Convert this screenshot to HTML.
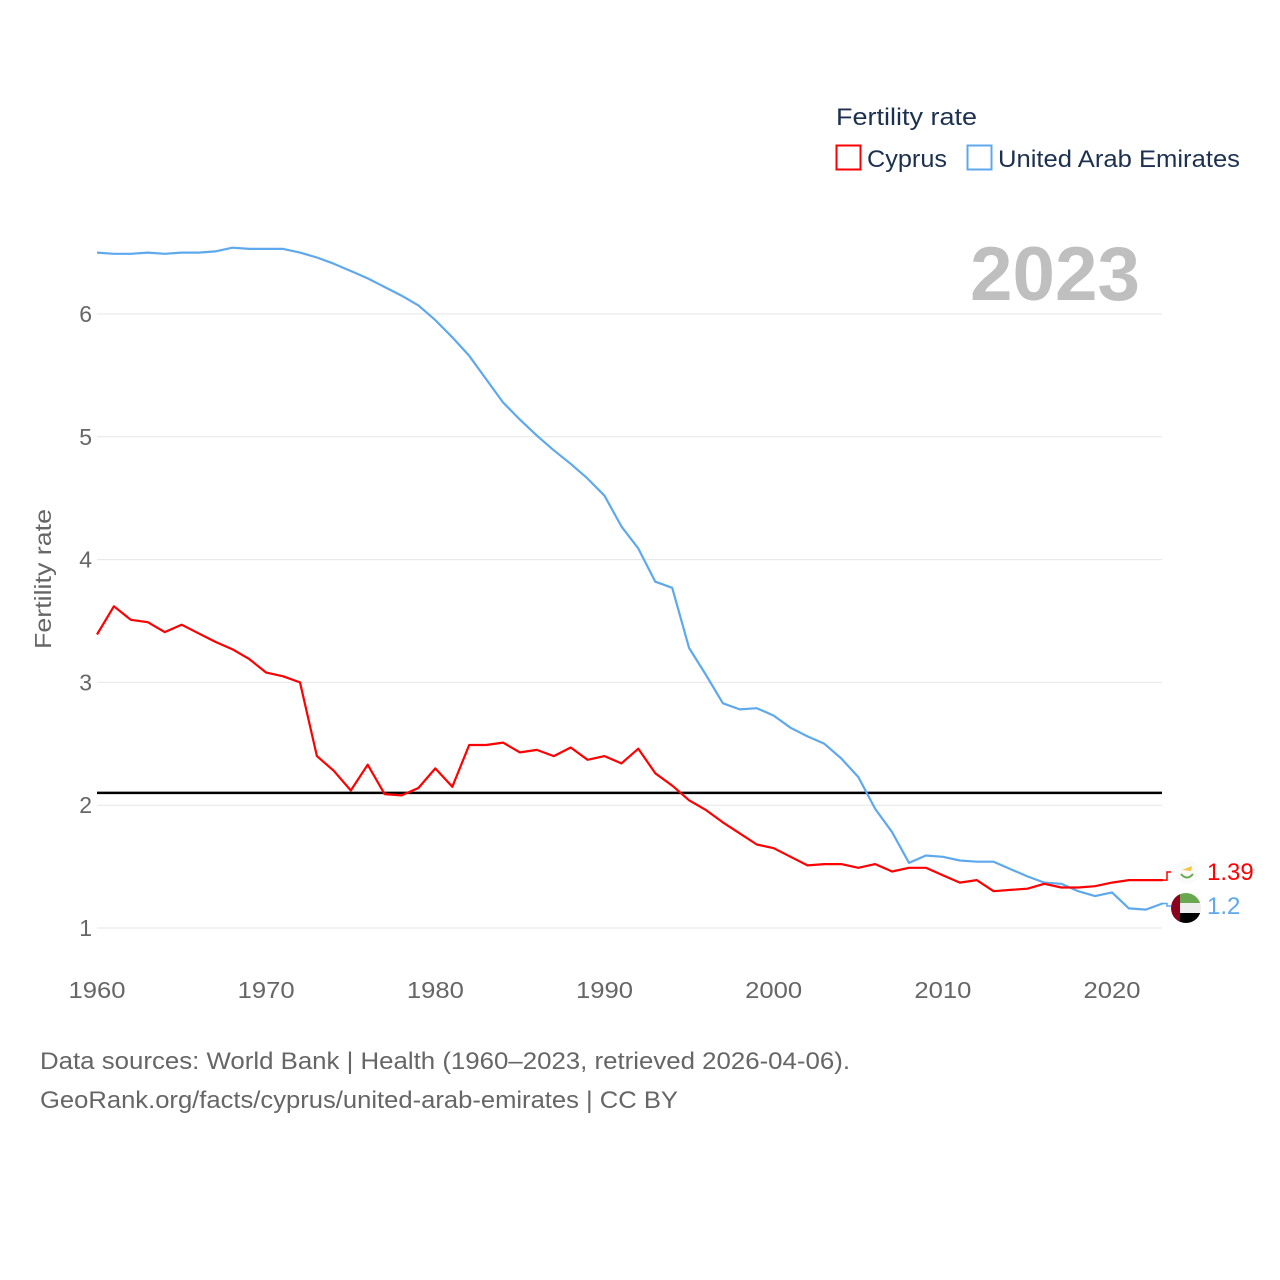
<!DOCTYPE html>
<html><head><meta charset="utf-8">
<style>
html,body{margin:0;padding:0;background:#fff;}
body{width:1280px;height:1280px;position:relative;overflow:hidden;font-family:"Liberation Sans",sans-serif;}
svg{position:absolute;left:0;top:0;}
</style></head>
<body>
<svg id="chart" width="1280" height="1280" viewBox="0 0 1280 1280">
  <g id="grid"></g>
  <g id="yticks"></g>
  <g id="xticks"></g>
  <text x="51" y="579" transform="rotate(-90 51 579)" text-anchor="middle" font-size="23" fill="#666" textLength="140" lengthAdjust="spacingAndGlyphs">Fertility rate</text>
  <text x="1140" y="300" text-anchor="end" font-size="76" font-weight="bold" fill="#bfbfbf" textLength="170" lengthAdjust="spacingAndGlyphs">2023</text>
  <g>
    <text x="836" y="125" font-size="24" fill="#1c3050" textLength="141" lengthAdjust="spacingAndGlyphs">Fertility rate</text>
    <g>
      <rect x="836.5" y="145.5" width="24" height="24" fill="none" stroke="#ff0000" stroke-width="2"/>
      <text x="867" y="167" font-size="24" fill="#1c3050" textLength="80" lengthAdjust="spacingAndGlyphs">Cyprus</text>
    </g>
    <g>
      <rect x="967.5" y="145.5" width="24" height="24" fill="none" stroke="#5ea8ee" stroke-width="2"/>
      <text x="998" y="167" font-size="24" fill="#1c3050" textLength="242" lengthAdjust="spacingAndGlyphs">United Arab Emirates</text>
    </g>
  </g>
  <line id="refline" stroke="#000" stroke-width="2.5"/>
  <g id="series"></g>
  <g id="endlabels"></g>
  <text x="40" y="1069" font-size="24" fill="#666" textLength="810" lengthAdjust="spacingAndGlyphs">Data sources: World Bank | Health (1960–2023, retrieved 2026-04-06).</text>
  <text x="40" y="1108" font-size="24" fill="#666" textLength="638" lengthAdjust="spacingAndGlyphs">GeoRank.org/facts/cyprus/united-arab-emirates | CC BY</text>
</svg>
<script>
const years = [];
for (let y = 1960; y <= 2023; y++) years.push(y);
const cyprusValues = [3.39,3.62,3.51,3.49,3.41,3.47,3.40,3.33,3.27,3.19,3.08,3.05,3.00,2.40,2.28,2.12,2.33,2.09,2.08,2.14,2.30,2.15,2.49,2.49,2.51,2.43,2.45,2.40,2.47,2.37,2.40,2.34,2.46,2.26,2.16,2.04,1.96,1.86,1.77,1.68,1.65,1.58,1.51,1.52,1.52,1.49,1.52,1.46,1.49,1.49,1.43,1.37,1.39,1.30,1.31,1.32,1.36,1.33,1.33,1.34,1.37,1.39,1.39,1.39];
const uaeValues = [6.50,6.49,6.49,6.50,6.49,6.50,6.50,6.51,6.54,6.53,6.53,6.53,6.50,6.46,6.41,6.35,6.29,6.22,6.15,6.07,5.95,5.81,5.66,5.47,5.28,5.14,5.01,4.89,4.78,4.66,4.52,4.27,4.09,3.82,3.77,3.28,3.06,2.83,2.78,2.79,2.73,2.63,2.56,2.50,2.38,2.23,1.97,1.78,1.53,1.59,1.58,1.55,1.54,1.54,1.48,1.42,1.37,1.36,1.30,1.26,1.29,1.16,1.15,1.20];
const yTicks = [1,2,3,4,5,6];
const xTicks = [1960,1970,1980,1990,2000,2010,2020];
const refValue = 2.1;

const NS = "http://www.w3.org/2000/svg";
const x = yr => 97 + (yr - 1960) * (1112 - 97) / 60;
const y = v => 928 - (v - 1) * (928 - 314) / 5;
const X0 = 97, X1 = 1162;
function mk(tag, attrs, parent) {
  const e = document.createElementNS(NS, tag);
  for (const k in attrs) e.setAttribute(k, attrs[k]);
  parent.appendChild(e);
  return e;
}
const grid = document.getElementById('grid');
const yt = document.getElementById('yticks');
yTicks.forEach(v => {
  const l = mk('line', {x1: X0, x2: X1, y1: y(v), y2: y(v), stroke: '#e6e6e6', 'stroke-width': 1}, grid);
  
  
  const t = mk('text', {x: 92, y: y(v) + 8, 'text-anchor': 'end', 'font-size': 23, fill: '#666'}, yt);
  t.textContent = v;
  
  
});
const xt = document.getElementById('xticks');
xTicks.forEach(v => {
  const t = mk('text', {x: x(v), y: 998, 'text-anchor': 'middle', 'font-size': 23, fill: '#666', textLength: 57, lengthAdjust: 'spacingAndGlyphs'}, xt);
  t.textContent = v;
  
  
});
const rl = document.getElementById('refline');
rl.setAttribute('x1', X0); rl.setAttribute('x2', X1);
rl.setAttribute('y1', y(refValue)); rl.setAttribute('y2', y(refValue));

const series = document.getElementById('series');
function drawLine(vals, color, name) {
  const pts = vals.map((v, i) => x(years[i]).toFixed(1) + ',' + y(v).toFixed(1)).join(' ');
  const p = mk('polyline', {points: pts, fill: 'none', stroke: color, 'stroke-width': 2.2, 'stroke-linejoin': 'round'}, series);
  
  
}
drawLine(uaeValues, '#5ea8ee', 'uae-line');
drawLine(cyprusValues, '#ff0000', 'cyprus-line');

const el = document.getElementById('endlabels');
function endLabel(vals, color, labelY, name, flagName, isUae) {
  const last = vals[vals.length - 1];
  const ly = y(last);
  const c = mk('polyline', {points: `${X1},${ly} ${X1+5},${ly} ${X1+5},${labelY} ${X1+9},${labelY}`, fill: 'none', stroke: color, 'stroke-width': 1.5}, el);
  
  
  const g = mk('g', {}, el);
  
  
  if (isUae) {
    const cx = 1186, cy = labelY + 2, r = 15;
    mk('clipPath', {id: 'uaeclip'}, g);
    mk('circle', {cx, cy, r}, g.lastChild);
    const cg = mk('g', {'clip-path': 'url(#uaeclip)'}, g);
    mk('rect', {x: cx - r, y: cy - r, width: 2 * r, height: 10, fill: '#6aa84f'}, cg);
    mk('rect', {x: cx - r, y: cy - r + 10, width: 2 * r, height: 10, fill: '#eeeeee'}, cg);
    mk('rect', {x: cx - r, y: cy - r + 20, width: 2 * r, height: 10, fill: '#000'}, cg);
    mk('rect', {x: cx - r, y: cy - r, width: 9, height: 2 * r, fill: '#8b0020'}, cg);
  } else {
    const cx = 1187, cy = labelY;
    mk('circle', {cx, cy, r: 12, fill: '#fafafa'}, g);
    mk('path', {d: `M${cx-5},${cy-2} L${cx+5},${cy-6} L${cx+4},${cy-1} Z`, fill: '#f5c542'}, g);
    mk('path', {d: `M${cx-6},${cy+2} Q${cx},${cy+9} ${cx+6},${cy+2}`, fill: 'none', stroke: '#6aa84f', 'stroke-width': 2}, g);
  }
  const t = mk('text', {x: 1207, y: labelY + 8, 'font-size': 24, fill: color}, el);
  t.textContent = String(last);
  
  
}
endLabel(cyprusValues, '#ff0000', 872, 'cyprus-end-label', 'cyprus-flag', false);
endLabel(uaeValues, '#5ea8ee', 906, 'uae-end-label', 'uae-flag', true);
</script>
</body></html>
